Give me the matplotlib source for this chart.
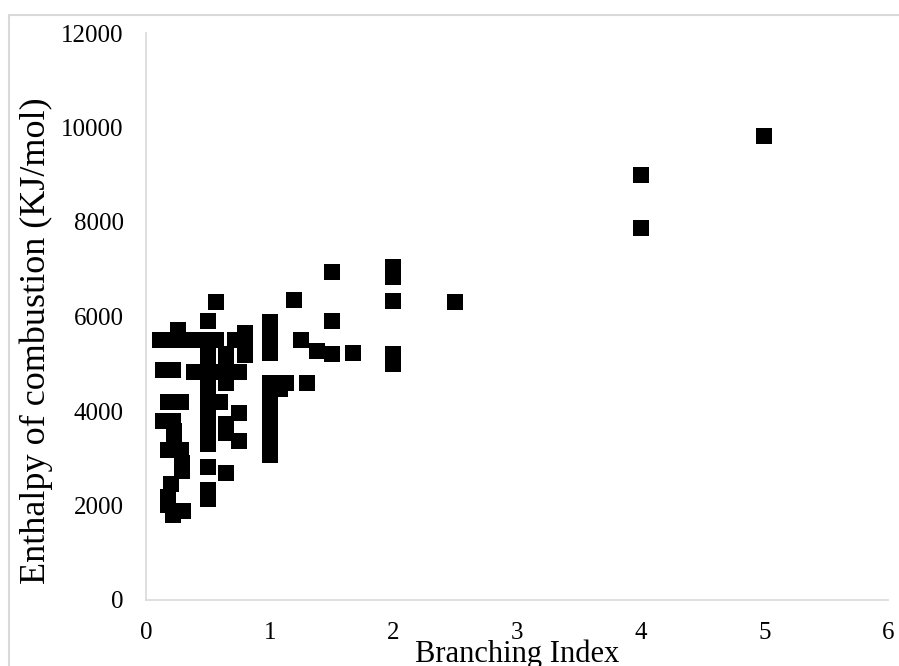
import matplotlib
matplotlib.use("Agg")
import matplotlib.pyplot as plt
from matplotlib.patches import Rectangle

plt.rcParams['font.family'] = ['Liberation Serif', 'DejaVu Serif']

branching_index = [
    0.11, 0.20, 0.26, 0.29, 0.38, 0.45, 0.57, 0.72, 0.80, 0.80, 0.80,
    0.57, 0.50,
    0.50, 0.50, 0.50, 0.50, 0.50, 0.50, 0.50, 0.50, 0.50, 0.50, 0.50,
    0.50, 0.50, 0.50, 0.50,
    0.65, 0.65, 0.65, 0.65, 0.60, 0.65, 0.65, 0.65,
    0.39, 0.58, 0.75, 0.75, 0.75,
    0.14, 0.22, 0.18, 0.28, 0.14, 0.22, 0.23, 0.23, 0.18, 0.28,
    0.29, 0.29, 0.20, 0.18, 0.18, 0.22, 0.30,
    1.0, 1.0, 1.0, 1.0,
    1.0, 1.0, 1.0, 1.0, 1.0, 1.0, 1.0, 1.0, 1.0,
    1.08, 1.13, 1.30,
    1.20, 1.25, 1.38, 1.50, 1.67, 1.50, 1.50,
    2.0, 2.0, 2.0, 2.0, 2.0,
    2.5, 4.0, 4.0, 5.0,
]
enthalpy = [
    5500, 5500, 5720, 5500, 5500, 5500, 5500, 5500, 5500, 5650, 5180,
    6300, 5900,
    5500, 5300, 5100, 4900, 4700, 4500, 4300, 4100, 3900, 3700, 3500,
    3300, 2820, 2330, 2130,
    5200, 5000, 4800, 4600, 4180, 3720, 3530, 2680,
    4820, 4820, 4820, 3950, 3370,
    4860, 4860, 4200, 4200, 3780, 3780, 3580, 3380, 3185, 3185,
    2890, 2720, 2460, 2190, 2020, 1800, 1880,
    5880, 5650, 5420, 5220,
    4600, 4400, 4200, 4000, 3800, 3600, 3400, 3200, 3060,
    4460, 4600, 4600,
    6350, 5500, 5270, 5200, 5220, 5900, 6950,
    7050, 6840, 6330, 5200, 4990,
    6300, 9000, 7880, 9820,
]

x_ticks = [0, 1, 2, 3, 4, 5, 6]
y_ticks = [0, 2000, 4000, 6000, 8000, 10000, 12000]

fig = plt.figure(figsize=(8.99, 6.66), dpi=100)
fig.patches.append(Rectangle((9/899, -0.2), 1.2, 1.2 - 15/666,
                             transform=fig.transFigure, fill=False,
                             edgecolor='#d9d9d9', linewidth=1.5))
ax = fig.add_axes([146/899, 1-600/666, (888-146)/899, (600-33)/666])
ax.scatter(branching_index, enthalpy, marker='s', s=118,
           color='black', linewidths=0, zorder=3)
ax.set_xlim(0, 6)
ax.set_ylim(0, 12000)
ax.set_xticks(x_ticks)
ax.set_yticks(y_ticks)
ax.set_xticklabels([str(v) for v in x_ticks])
ax.set_yticklabels([str(v) for v in y_ticks])
ax.tick_params(length=0, labelsize=18, pad=16, colors='black')
for s in ['top', 'right']:
    ax.spines[s].set_visible(False)
for s in ['left', 'bottom']:
    ax.spines[s].set_color('#d9d9d9')
    ax.spines[s].set_linewidth(1.2)
ax.set_xlabel('Branching Index', fontsize=22)
ax.xaxis.set_label_coords(0.5, -0.07)
ax.set_ylabel('Enthalpy of combustion (KJ/mol)', fontsize=26, va='center')
ax.yaxis.set_label_coords(-0.148, 0.457)
fig.savefig('out.png', dpi=100)
